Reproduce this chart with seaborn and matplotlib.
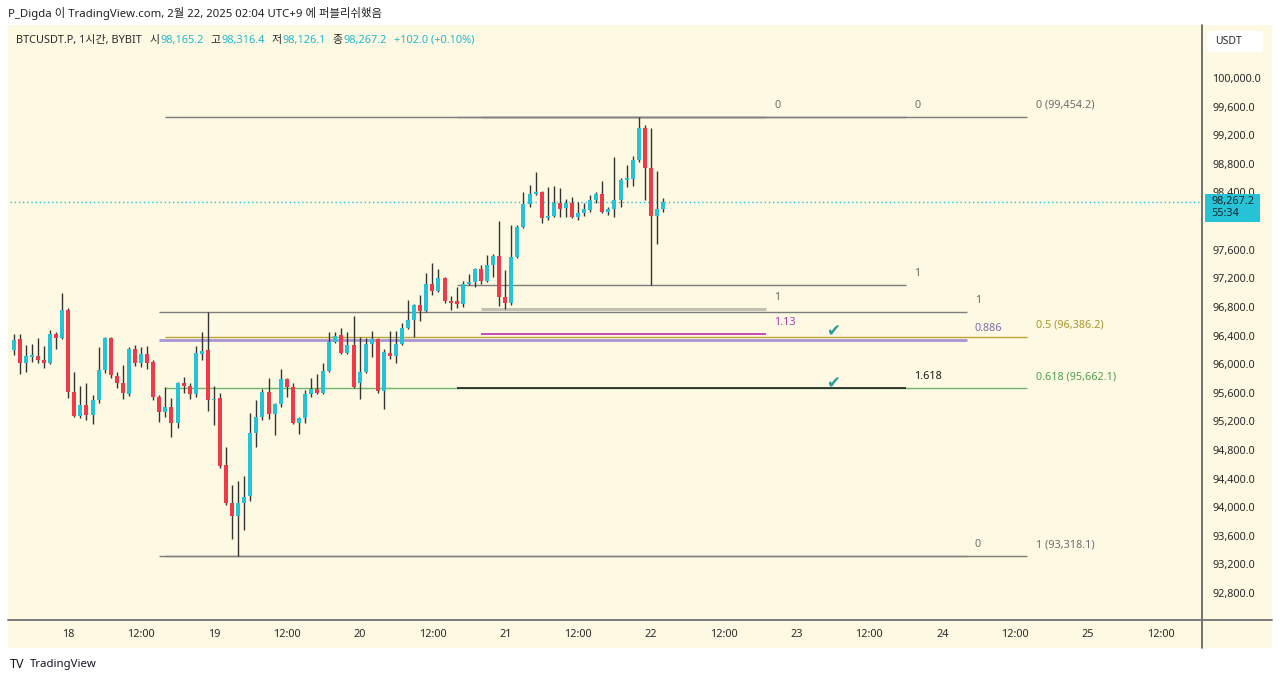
import numpy as np
import pandas as pd
import matplotlib
matplotlib.use('Agg')
import matplotlib.pyplot as plt
from matplotlib.patches import Rectangle, FancyBboxPatch
from matplotlib.lines import Line2D
import seaborn as sns

# ---------------------------------------------------------------------------
# data: BTCUSDT.P 1h candles, hour offset from 18 Feb 00:00 (UTC+9)
# ---------------------------------------------------------------------------
hours = list(range(-10, 99))

opens = [95960, 96195, 96350, 96015, 96100, 96115, 96060, 96015, 96420, 96365,
         96755, 95610, 95275, 95430, 95290, 95500, 95920, 96365, 95835, 95735,
         95580, 96210, 96015, 96140, 96030, 95540, 95330, 95400, 95175, 95735,
         95695, 95580, 96140, 96195, 95500, 95525, 94590, 94060, 93875, 94060,
         94155, 95035, 95260, 95610, 95305, 95445, 95790, 95680, 95175, 95245,
         95580, 95650, 95595, 95905, 96310, 96405, 96155, 96265, 95735, 95890,
         96280, 96350, 95625, 96155, 96115, 96280, 96505, 96615, 96825, 96745,
         97120, 97020, 97205, 96880, 96880, 96840, 97120, 97150, 97330, 97160,
         97385, 97510, 96940, 96855, 97495, 97915, 98240, 98380, 98405, 98045,
         98070, 98250, 98180, 98250, 98055, 98110, 98155, 98295, 98380, 98125,
         98170, 98295, 98575, 98590, 98855, 99300, 98740, 98070, 98165.2]
highs = [96225, 96420, 96420, 96265, 96280, 96365, 96255, 96475, 96450, 96995,
         96785, 95890, 95695, 95735, 95570, 96240, 96380, 96380, 95890, 95990,
         96240, 96265, 96240, 96255, 96060, 95570, 95680, 95525, 95750, 95820,
         95735, 96255, 96450, 96725, 95695, 95595, 94840, 94310, 94365, 94435,
         95315, 95500, 95650, 95805, 95450, 95930, 95805, 95735, 95260, 95640,
         95805, 95860, 96015, 96450, 96450, 96505, 96450, 96675, 96380, 96365,
         96465, 96360, 96210, 96465, 96465, 96575, 96895, 96835, 96965, 97275,
         97415, 97330, 97215, 96950, 97080, 97160, 97260, 97340, 97385, 97525,
         97540, 98000, 97315, 97945, 97945, 98405, 98505, 98685, 98415, 98475,
         98490, 98460, 98310, 98335, 98265, 98250, 98365, 98405, 98560, 98195,
         98895, 98600, 98785, 98910, 99454.2, 99340, 99300, 98700, 98316.4]
lows = [95930, 96125, 95860, 95890, 96030, 96015, 95945, 96005, 96210, 96350,
        95525, 95260, 95245, 95220, 95165, 95455, 95875, 95805, 95665, 95515,
        95555, 95975, 95960, 95930, 95500, 95190, 95260, 94980, 95105, 95595,
        95515, 95540, 96060, 95345, 95150, 94550, 94030, 93555, 93318.1, 93680,
        94085, 94840, 95220, 95235, 95010, 95400, 95540, 95165, 95025, 95175,
        95540, 95585, 95585, 95895, 96295, 96145, 96145, 95665, 95515, 95880,
        96100, 95595, 95375, 96070, 96015, 96270, 96495, 96380, 96605, 96735,
        96965, 97010, 96855, 96755, 96785, 96800, 97110, 97080, 97120, 97150,
        97220, 96815, 96764, 96825, 97485, 97905, 98195, 98365, 97975, 98015,
        98055, 98055, 98055, 98045, 98015, 98070, 98125, 98250, 98115, 98085,
        98055, 98195, 98475, 98490, 98825, 98295, 97110.6, 97680, 98126.1]
closes = [96195, 96335, 96015, 96115, 96125, 96060, 96015, 96420, 96365, 96755,
          95610, 95275, 95430, 95290, 95500, 95920, 96365, 95850, 95735, 95595,
          96210, 96015, 96140, 96015, 95540, 95330, 95400, 95175, 95735, 95695,
          95580, 96155, 96185, 95500, 95515, 94575, 94060, 93875, 94060, 94145,
          95035, 95260, 95610, 95305, 95445, 95790, 95680, 95175, 95245, 95580,
          95650, 95595, 95905, 96310, 96395, 96155, 96265, 95680, 95890, 96280,
          96350, 95625, 96170, 96115, 96280, 96505, 96615, 96825, 96745, 97120,
          97020, 97205, 96880, 96855, 96840, 97120, 97150, 97330, 97160, 97385,
          97510, 96940, 96855, 97495, 97915, 98240, 98380, 98405, 98045, 98070,
          98250, 98170, 98250, 98055, 98110, 98170, 98295, 98380, 98125, 98170,
          98295, 98575, 98600, 98855, 99300, 98740, 98070, 98165.2, 98267.2]

last_close = 98267.2
price_ticks = [100000, 99600, 99200, 98800, 98400, 98000, 97600, 97200, 96800,
               96400, 96000, 95600, 95200, 94800, 94400, 94000, 93600, 93200, 92800]
time_ticks = [0, 12, 24, 36, 48, 60, 72, 84, 96, 108, 120, 132, 144, 156, 168, 180]
time_labels = ['18', '12:00', '19', '12:00', '20', '12:00', '21', '12:00', '22',
               '12:00', '23', '12:00', '24', '12:00', '25', '12:00']

# fib drawings: price of level 0 / level 1, levels shown, hour span
fib_a_prices = [99454.2, 93318.1]
fib_a_levels = [0, 0.5, 0.618, 1]
fib_a_span = [16, 158]
fib_b_prices = [93318.1, 96725.0]
fib_b_levels = [0, 0.886, 1]
fib_b_span = [15, 148]
fib_c_prices = [99454.2, 97110.6]
fib_c_levels = [0, 1, 1.618]
fib_c_span = [64, 138]
fib_d_prices = [99454.2, 96764.0]
fib_d_levels = [0, 1, 1.13]
fib_d_span = [68, 115]
check_hour = 126

# ---------------------------------------------------------------------------
# style
# ---------------------------------------------------------------------------
sns.set_theme(style='white')
plt.rcParams['font.family'] = ['Noto Sans', 'Noto Sans CJK KR', 'DejaVu Sans']

CREAM = '#fdf9e2'
UP = '#26c3d6'
DOWN = '#ef3a4a'
WICK = '#333333'
GRAY = '#7d7d7d'
TEXT = '#2a2a2a'
CYAN_TXT = '#22b8cf'

W, H = 1280, 681
fig = plt.figure(figsize=(12.8, 6.81), dpi=100, facecolor='white')


def fx(px):
    return px / W


def fy(py):
    return 1 - py / H


fig.add_artist(Rectangle((fx(8), fy(648)), fx(1272) - fx(8), fy(25) - fy(648),
                         transform=fig.transFigure, facecolor=CREAM,
                         edgecolor='none', zorder=-1))

ax = fig.add_axes([fx(10), fy(620), fx(1202) - fx(10), fy(25) - fy(620)])
ax.set_facecolor('none')
ax.set_xlim(-9.6, 186.8)
ax.set_ylim(92424, 100740)
sns.despine(ax=ax, left=True, bottom=True, right=True, top=True)

# candles
df = pd.DataFrame({'hour': hours, 'open': opens, 'high': highs,
                   'low': lows, 'close': closes})
up = df['close'] >= df['open']
ax.vlines(df['hour'], df['low'], df['high'], color=WICK, lw=1, zorder=2)
body_lo = df[['open', 'close']].min(axis=1)
body_h = (df['close'] - df['open']).abs().clip(lower=14)
ax.bar(df['hour'], body_h, bottom=body_lo, width=0.66,
       color=np.where(up, UP, DOWN), linewidth=0, zorder=3)

# current price dotted line
ax.axhline(last_close, color=UP, lw=1, ls=(0, (1, 2)), zorder=1)


def draw_fib(prices, levels, span, line_styles, label_colors, with_price=False):
    p0, p1 = prices
    for lv in levels:
        price = round(p0 + lv * (p1 - p0) + 1e-6, 1)
        col, lw = line_styles.get(lv, (GRAY, 1))
        ax.hlines(price, span[0], span[1], color=col, lw=lw, zorder=1.5)
        label = f'{lv:g}'
        if with_price:
            label += f' ({price:,.1f})'
        ax.annotate(label, xy=(span[1], price), xytext=(6, 8.3),
                    textcoords='offset points', ha='left', va='center',
                    fontsize=7.8, color=label_colors.get(lv, '#6f6f6f'))


draw_fib(fib_a_prices, fib_a_levels, fib_a_span,
         {0.5: ('#bba436', 1), 0.618: ('#6db46d', 1)},
         {0.5: '#a8962a', 0.618: '#4f9f4f'}, with_price=True)
draw_fib(fib_b_prices, fib_b_levels, fib_b_span,
         {0.886: ('#a896d2', 2)}, {0.886: '#7a6da8'})
draw_fib(fib_c_prices, fib_c_levels, fib_c_span,
         {1.618: ('#1e1e1e', 1.2)}, {1.618: '#1a1a1a'})
draw_fib(fib_d_prices, fib_d_levels, fib_d_span,
         {1: ('#c3c1b3', 2.2), 1.13: ('#c23dae', 1.3)}, {1.13: '#b03ea4'})

for lv in [0.5, 0.618]:
    price = fib_a_prices[0] + lv * (fib_a_prices[1] - fib_a_prices[0])
    ax.annotate('✔', xy=(check_hour, price), xytext=(0, 3.5),
                textcoords='offset points', ha='center', va='center',
                fontsize=12, color='#2e9a9c', family='DejaVu Sans', zorder=4)

# axes ticks (98,000.0 sits under the live price box)
ax.yaxis.tick_right()
ax.set_yticks(price_ticks)
ax.set_yticklabels(['' if p == 98000 else f'{p:,.1f}' for p in price_ticks])
ax.tick_params(axis='y', length=0, pad=7.5, labelsize=7.8, labelcolor=TEXT)
ax.set_xticks(time_ticks)
ax.set_xticklabels(time_labels)
ax.tick_params(axis='x', length=0, pad=6.5, labelsize=7.8, labelcolor=TEXT)
for lab in ax.get_xticklabels():
    if lab.get_text() == '24':
        lab.set_fontweight('bold')
ax.grid(False)

# separators
fig.add_artist(Line2D([fx(1202), fx(1202)], [fy(25), fy(648)],
                      transform=fig.transFigure, color='#5a5a5a', lw=1.2))
fig.add_artist(Line2D([fx(8), fx(1272)], [fy(620), fy(620)],
                      transform=fig.transFigure, color='#7a7a7a', lw=1.4))

# price box on the right scale
yd = ax.transData.transform((0, last_close))[1]
fig.add_artist(Rectangle((fx(1205), (yd - 20) / H), fx(1260) - fx(1205), 28 / H,
                         transform=fig.transFigure, facecolor=UP,
                         edgecolor='none', zorder=3))
fig.text(fx(1211), (yd + 0.5) / H, f'{last_close:,.1f}', fontsize=7.8,
         color='#13232e', ha='left', va='center', zorder=4)
fig.text(fx(1211), (yd - 12) / H, '55:34', fontsize=7.8,
         color='#13232e', ha='left', va='center', zorder=4)

# USDT box
fig.add_artist(FancyBboxPatch((fx(1207), fy(52)), fx(1263) - fx(1207), fy(31) - fy(52),
                              boxstyle='round,pad=0,rounding_size=0.004',
                              transform=fig.transFigure, facecolor='white',
                              edgecolor='none', zorder=3))
fig.text(fx(1215), fy(41.5), 'USDT', fontsize=7.5, color=TEXT,
         ha='left', va='center', zorder=4)

# header texts
fig.text(fx(8), fy(13), 'P_Digda 이 TradingView.com, 2월 22, 2025 02:04 UTC+9 에 퍼블리쉬했음',
         fontsize=8.2, color='#222222', ha='left', va='center')

renderer = fig.canvas.get_renderer()
legend_parts = [('BTCUSDT.P, 1시간, BYBIT', TEXT, 8), ('시', TEXT, 0.5),
                ('98,165.2', CYAN_TXT, 7), ('고', TEXT, 0.5),
                ('98,316.4', CYAN_TXT, 7), ('저', TEXT, 0.5),
                ('98,126.1', CYAN_TXT, 7), ('종', TEXT, 0.5),
                ('98,267.2', CYAN_TXT, 7), ('+102.0 (+0.10%)', CYAN_TXT, 0)]
x = 16
for txt, col, gap in legend_parts:
    t = fig.text(fx(x), fy(40), txt, fontsize=7.9, color=col,
                 ha='left', va='center')
    x += t.get_window_extent(renderer).width + gap

# footer logo
fig.text(fx(10), fy(664), 'TV', fontsize=9, fontweight='heavy',
         color='#131722', ha='left', va='center')
fig.text(fx(30), fy(664), 'TradingView', fontsize=8.2, color='#131722',
         ha='left', va='center')

fig.savefig('out.png', dpi=100, facecolor='white')
